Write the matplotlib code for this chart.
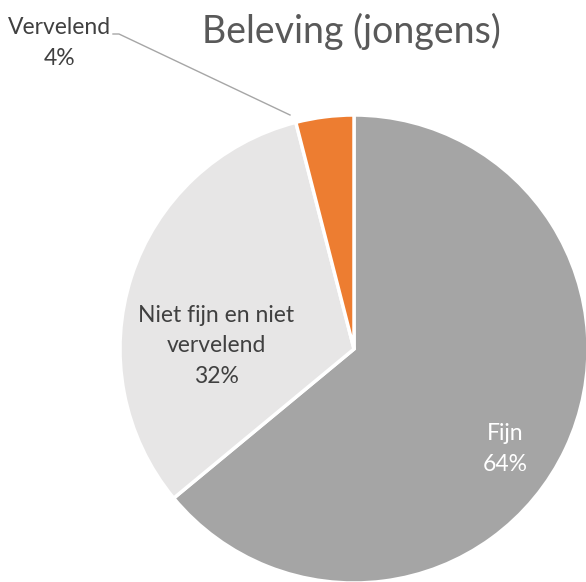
import matplotlib.pyplot as plt

labels = ["Fijn", "Niet fijn en niet\nvervelend", "Vervelend"]
shares = [64, 32, 4]
colors = ["#A5A5A5", "#E7E6E6", "#ED7D31"]
title = "Beleving (jongens)"

fig = plt.figure(figsize=(5.86, 5.82), dpi=100)
ax = fig.add_axes([0, 0, 1, 1])

# pie in pixel coords (y up)
cx, cy, r = 354, 582 - 349, 234
ax.pie(shares, colors=colors, startangle=90, counterclock=False,
       center=(cx, cy), radius=r, frame=True,
       wedgeprops=dict(edgecolor="white", linewidth=2.5))
ax.set_xlim(0, 586)
ax.set_ylim(0, 582)
ax.set_aspect("equal")
ax.axis("off")

font = "Lato"
txt = "#404040"

ax.text(351, 582 - 31, title, ha="center", va="center", fontsize=27,
        color="#595959", family=font)

ax.text(505, 582 - 449, f"{labels[0]}\n{shares[0]}%", ha="center", va="center",
        fontsize=16.5, color="white", family=font, linespacing=1.55)
ax.text(216, 582 - 346, f"{labels[1]}\n{shares[1]}%", ha="center", va="center",
        fontsize=16.5, color=txt, family=font, linespacing=1.55)
ax.text(60, 582 - 43, f"{labels[2]}\n{shares[2]}%", ha="center", va="center",
        fontsize=16.5, color=txt, family=font, linespacing=1.55)

# leader line for the small slice
ax.plot([113, 119, 290], [582 - 34, 582 - 34, 582 - 115], color="#A6A6A6", lw=1)

fig.savefig("out.png", dpi=100)
